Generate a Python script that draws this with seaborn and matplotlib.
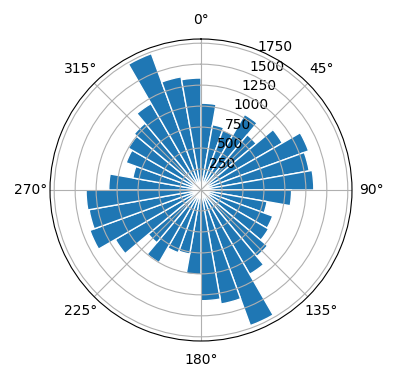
import numpy as np
import matplotlib
matplotlib.use("Agg")
import matplotlib.pyplot as plt
import seaborn as sns
import pandas as pd

# Direction bins (degrees, start of each 10-degree sector) and counts
bin_start_deg = list(range(0, 360, 10))
counts = [1035, 790, 760, 1040, 860, 1120, 1365, 1310, 1345,
          1080, 800, 910, 930, 1035, 1160, 1720, 1380, 1320,
          1010, 775, 795, 1000, 820, 1180, 1410, 1355, 1370,
          1100, 825, 950, 1000, 1040, 1190, 1730, 1370, 1335]

df = pd.DataFrame({"theta": np.deg2rad(bin_start_deg), "count": counts})

color = sns.color_palette("tab10")[0]

fig = plt.figure(figsize=(3.96, 3.80), dpi=100)
ax = fig.add_axes([50 / 396, 39 / 380, 302 / 396, 302 / 380], projection="polar")
ax.set_theta_zero_location("N")
ax.set_theta_direction(-1)
ax.bar(df["theta"], df["count"], width=np.deg2rad(10), align="edge",
       color=color, edgecolor="white", linewidth=1.0)
ax.set_ylim(0, 1800)
ax.set_yticks([250, 500, 750, 1000, 1250, 1500, 1750])
ax.grid(True)
fig.savefig("out.png", dpi=100)
